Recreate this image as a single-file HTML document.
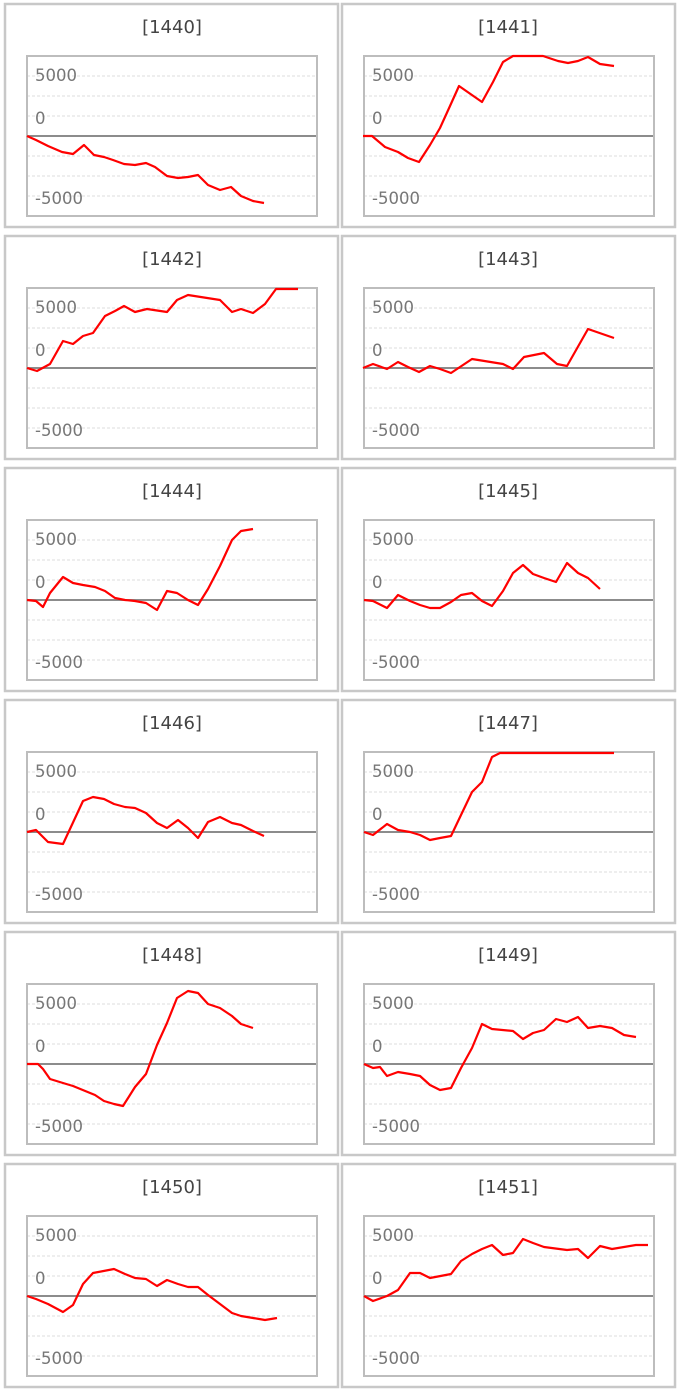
<!DOCTYPE html>
<html><head><meta charset="utf-8"><style>
html,body{margin:0;padding:0;background:#fff;width:681px;height:1390px;overflow:hidden}
svg{display:block;font-family:"DejaVu Sans","Liberation Sans",sans-serif}
.fr{fill:#fff;stroke:#c8c8c8;stroke-width:2.5}
.pb{fill:none;stroke:#bdbdbd;stroke-width:2}
.g{stroke:#ddd;stroke-width:1;stroke-dasharray:3,2}
.z{stroke:#8c8c8c;stroke-width:2}
.t{font-size:18px;fill:#444;text-anchor:middle}
.l{font-size:16.5px;fill:#777}
.d{fill:none;stroke:#f00;stroke-width:2.2;stroke-linejoin:round}
</style></head><body>
<svg width="681" height="1390" viewBox="0 0 681 1390">
<defs>
<g id="p">
<rect class="fr" x="5" y="4" width="333" height="223"/>
<line class="g" x1="27" x2="317" y1="76" y2="76"/>
<line class="g" x1="27" x2="317" y1="96" y2="96"/>
<line class="g" x1="27" x2="317" y1="116" y2="116"/>
<line class="g" x1="27" x2="317" y1="156" y2="156"/>
<line class="g" x1="27" x2="317" y1="176" y2="176"/>
<line class="g" x1="27" x2="317" y1="196" y2="196"/>
<line class="z" x1="27" x2="318" y1="136" y2="136"/>
<rect class="pb" x="27" y="56" width="290" height="160"/>
</g>
</defs>
<use href="#p"/><use href="#p" x="337"/>
<use href="#p" y="232"/><use href="#p" x="337" y="232"/>
<use href="#p" y="464"/><use href="#p" x="337" y="464"/>
<use href="#p" y="696"/><use href="#p" x="337" y="696"/>
<use href="#p" y="928"/><use href="#p" x="337" y="928"/>
<use href="#p" y="1160"/><use href="#p" x="337" y="1160"/>

<text class="t" x="172" y="33">[1440]</text><text class="t" x="508" y="33">[1441]</text>
<text class="t" x="172" y="265">[1442]</text><text class="t" x="508" y="265">[1443]</text>
<text class="t" x="172" y="497">[1444]</text><text class="t" x="508" y="497">[1445]</text>
<text class="t" x="172" y="729">[1446]</text><text class="t" x="508" y="729">[1447]</text>
<text class="t" x="172" y="961">[1448]</text><text class="t" x="508" y="961">[1449]</text>
<text class="t" x="172" y="1193">[1450]</text><text class="t" x="508" y="1193">[1451]</text>

<g class="l">
<text x="35" y="81">5000</text><text x="35" y="124">0</text><text x="35" y="204">-5000</text>
<text x="372" y="81">5000</text><text x="372" y="124">0</text><text x="372" y="204">-5000</text>
<text x="35" y="313">5000</text><text x="35" y="356">0</text><text x="35" y="436">-5000</text>
<text x="372" y="313">5000</text><text x="372" y="356">0</text><text x="372" y="436">-5000</text>
<text x="35" y="545">5000</text><text x="35" y="588">0</text><text x="35" y="668">-5000</text>
<text x="372" y="545">5000</text><text x="372" y="588">0</text><text x="372" y="668">-5000</text>
<text x="35" y="777">5000</text><text x="35" y="820">0</text><text x="35" y="900">-5000</text>
<text x="372" y="777">5000</text><text x="372" y="820">0</text><text x="372" y="900">-5000</text>
<text x="35" y="1009">5000</text><text x="35" y="1052">0</text><text x="35" y="1132">-5000</text>
<text x="372" y="1009">5000</text><text x="372" y="1052">0</text><text x="372" y="1132">-5000</text>
<text x="35" y="1241">5000</text><text x="35" y="1284">0</text><text x="35" y="1364">-5000</text>
<text x="372" y="1241">5000</text><text x="372" y="1284">0</text><text x="372" y="1364">-5000</text>
</g>

<polyline class="d" points="27,136 36,140 48,146 62,152 73,154 84,145 94,155 104,157 113,160 124,164 135,165 146,163 155,167 167,176 178,178 188,177 198,175 208,185 220,190 231,187 241,196 253,201 264,203"/>
<polyline class="d" points="363,136 372,136 385,147 398,152 408,158 419,162 430,145 440,128 450,106 459,86 482,102 493,82 503,62 513,56 543,56 558,61 568,63 578,61 588,57 600,64 614,66"/>
<polyline class="d" points="27,368 37,371 50,364 63,341 73,344 83,336 93,333 105,316 115,311 124,306 135,312 147,309 167,312 177,300 188,295 220,300 232,312 241,309 253,313 265,304 276,289 298,289"/>
<polyline class="d" points="363,368 373,364 387,369 398,362 408,367 419,372 430,366 440,369 451,373 472,359 503,364 513,369 524,357 544,353 557,364 567,366 588,329 614,338"/>
<polyline class="d" points="27,600 36,601 43,607 50,593 63,577 73,583 83,585 95,587 105,591 115,598 125,600 135,601 146,603 157,610 167,591 177,593 188,600 198,605 208,589 220,566 232,540 241,531 253,529"/>
<polyline class="d" points="364,600 373,601 387,608 398,595 410,601 420,605 430,608 440,608 451,602 461,595 472,593 482,601 492,606 503,591 513,573 523,565 533,574 544,578 556,582 567,563 578,573 588,578 600,589"/>
<polyline class="d" points="27,832 36,830 48,842 63,844 83,801 93,797 104,799 114,804 125,807 135,808 146,813 157,823 167,828 178,820 188,828 198,838 208,822 220,817 232,823 241,825 253,831 264,836"/>
<polyline class="d" points="364,832 373,835 387,824 398,830 410,832 420,835 430,840 440,838 451,836 461,815 472,792 482,782 492,757 500,753 614,753"/>
<polyline class="d" points="27,1064 38,1064 43,1069 50,1079 63,1083 73,1086 95,1095 104,1101 114,1104 123,1106 135,1087 146,1074 157,1045 167,1023 177,998 188,991 198,993 208,1004 220,1008 232,1016 241,1024 253,1028"/>
<polyline class="d" points="364,1064 373,1068 380,1067 387,1076 398,1072 410,1074 420,1076 430,1085 440,1090 451,1088 461,1068 472,1048 482,1024 492,1029 513,1031 523,1039 533,1033 544,1030 556,1019 567,1022 578,1017 588,1028 600,1026 612,1028 624,1035 636,1037"/>
<polyline class="d" points="27,1296 36,1299 48,1304 63,1312 73,1305 83,1284 93,1273 114,1269 125,1274 135,1278 146,1279 157,1286 167,1280 178,1284 188,1287 198,1287 208,1295 220,1304 232,1313 241,1316 253,1318 265,1320 277,1318"/>
<polyline class="d" points="364,1296 373,1301 387,1296 398,1290 410,1273 420,1273 430,1278 451,1274 461,1261 472,1254 482,1249 492,1245 503,1255 513,1253 523,1239 533,1243 544,1247 567,1250 578,1249 588,1258 600,1246 612,1249 636,1245 648,1245"/>
</svg>
</body></html>
